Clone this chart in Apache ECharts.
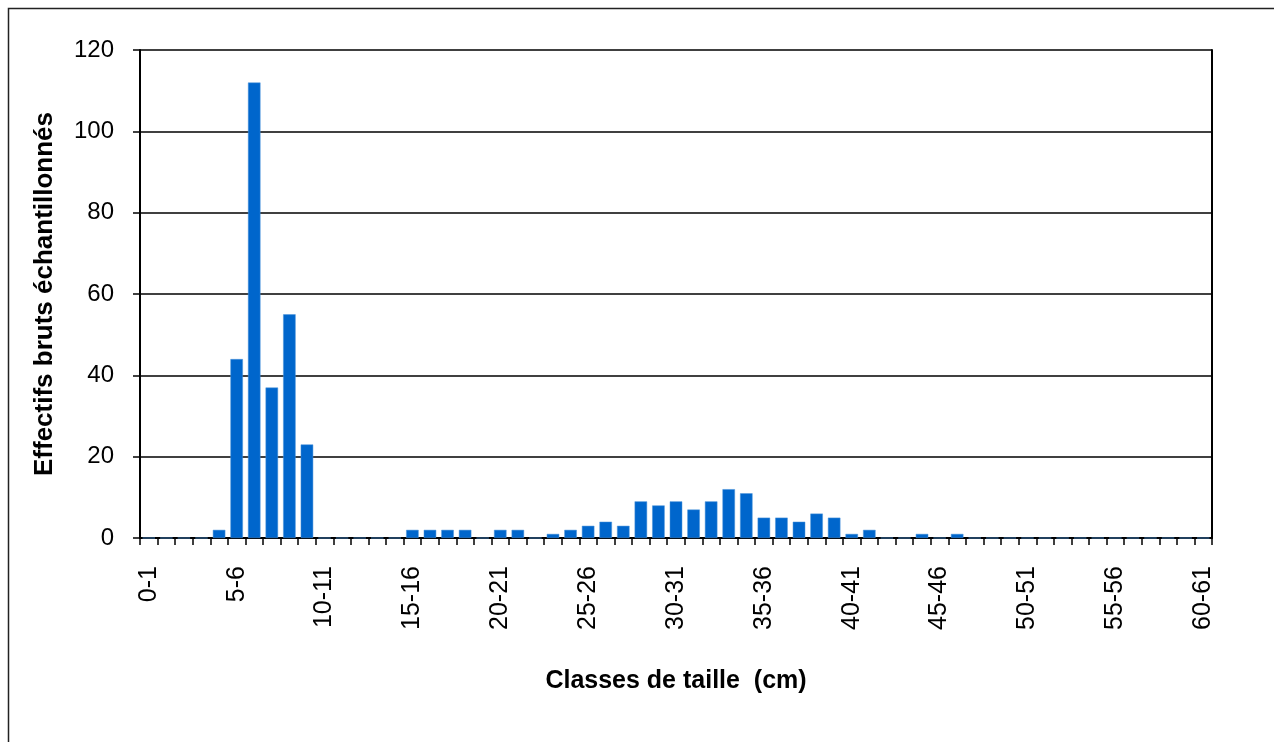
<!DOCTYPE html>
<html>
<head>
<meta charset="utf-8">
<script src="https://cdn.jsdelivr.net/npm/echarts@6/dist/echarts.min.js"></script>
<style>
html,body{margin:0;padding:0;background:#fff;}
#chart{width:1274px;height:742px;}
</style>
</head>
<body>
<div id="chart"></div>
<script>
// Size classes 0-1 ... 60-61
const categories = [];
for (let i = 0; i <= 60; i++) categories.push(i + '-' + (i + 1));

const counts = [
  0, 0, 0, 0, 2, 44, 112, 37, 55, 23,   // 0-1 .. 9-10
  0, 0, 0, 0, 0, 2, 2, 2, 2, 0,         // 10-11 .. 19-20
  2, 2, 0, 1, 2, 3, 4, 3, 9, 8,         // 20-21 .. 29-30
  9, 7, 9, 12, 11, 5, 5, 4, 6, 5,       // 30-31 .. 39-40
  1, 2, 0, 0, 1, 0, 1, 0, 0, 0,         // 40-41 .. 49-50
  0, 0, 0, 0, 0, 0, 0, 0, 0, 0,         // 50-51 .. 59-60
  0                                     // 60-61
];

const yTicks = [0, 20, 40, 60, 80, 100, 120];
const xTitle = 'Classes de taille  (cm)';
const yTitle = 'Effectifs bruts échantillonnés';

const chart = echarts.init(document.getElementById('chart'), null, {renderer: 'canvas'});
const font = '"Liberation Sans", Arial, sans-serif';
chart.setOption({
  animation: false,
  backgroundColor: '#fff',
  graphic: [{
    type: 'rect',
    shape: {x: 8.5, y: 8.5, width: 1300, height: 800},
    style: {fill: 'none', stroke: '#222', lineWidth: 1.5},
    silent: true, z: -1
  }],
  grid: {left: 140, right: 62, top: 50, bottom: 204, containLabel: false},
  xAxis: {
    type: 'category',
    data: categories,
    boundaryGap: true,
    name: xTitle,
    nameLocation: 'middle',
    nameGap: 131,
    nameTextStyle: {fontFamily: font, fontSize: 25, fontWeight: 'bold', color: '#000'},
    axisLine: {show: true, lineStyle: {color: '#000', width: 2}},
    axisTick: {show: true, interval: 0, alignWithLabel: false, length: 7, lineStyle: {color: '#000', width: 1.5}},
    axisLabel: {interval: 4, rotate: 90, margin: 28, fontFamily: font, fontSize: 25, color: '#000'},
    splitLine: {show: false}
  },
  yAxis: [{
    type: 'value',
    min: 0, max: 120, interval: 20,
    name: yTitle,
    nameLocation: 'middle',
    nameGap: 82,
    nameRotate: 90,
    nameTextStyle: {fontFamily: font, fontSize: 26, fontWeight: 'bold', color: '#000'},
    axisLine: {show: true, lineStyle: {color: '#000', width: 2}},
    axisTick: {show: true, length: 7, lineStyle: {color: '#000', width: 1.5}},
    axisLabel: {margin: 26, fontFamily: font, fontSize: 24, color: '#000',
      formatter: v => yTicks.indexOf(v) >= 0 ? String(v) : ''},
    splitLine: {show: true, lineStyle: {color: '#000', width: 1.5}}
  }, {
    type: 'value',
    position: 'right',
    min: 0, max: 120, interval: 20,
    axisLine: {show: true, lineStyle: {color: '#000', width: 2}},
    axisTick: {show: false},
    axisLabel: {show: false},
    splitLine: {show: false}
  }],
  series: [{
    type: 'bar',
    data: counts,
    yAxisIndex: 0,
    barCategoryGap: '29%',
    itemStyle: {color: '#0066CC', borderColor: '#4d94db', borderWidth: 0.5}
  }]
});
</script>
</body>
</html>
